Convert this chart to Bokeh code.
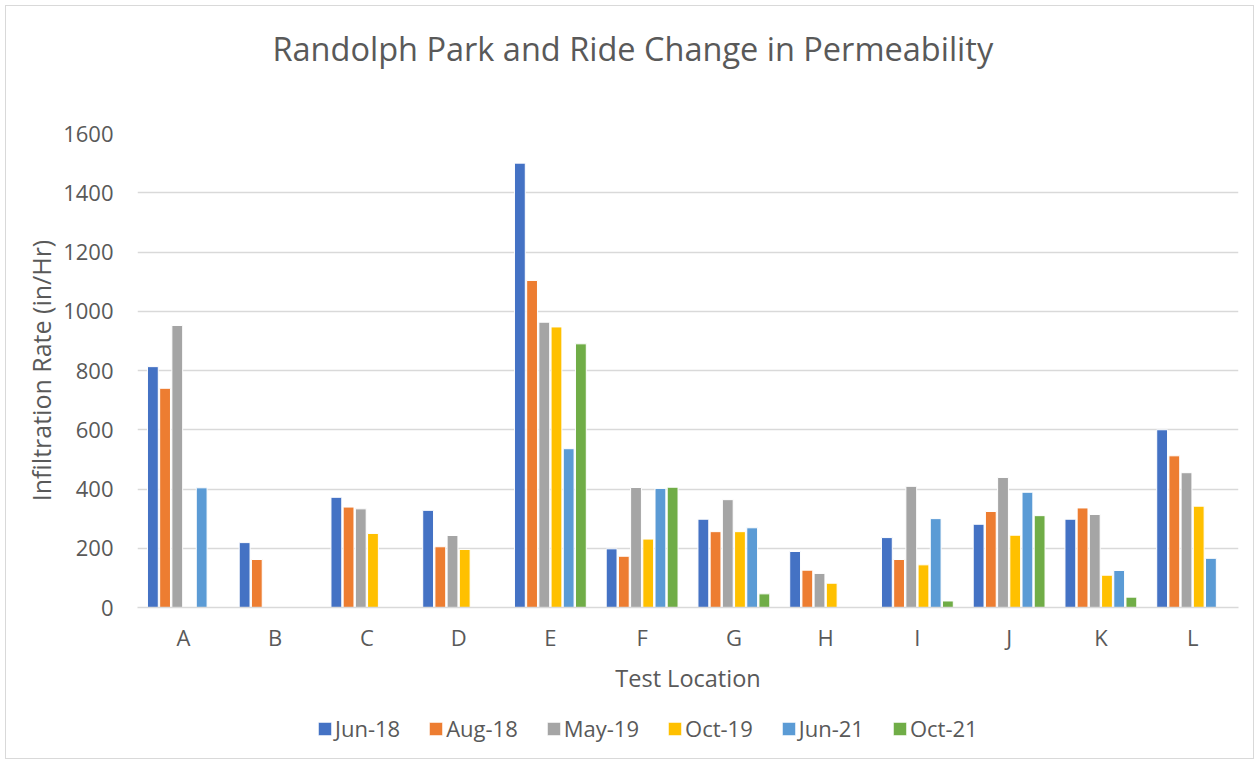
from bokeh.plotting import figure
from bokeh.layouts import column
from bokeh.models import (ColumnDataSource, FactorRange, FixedTicker, Legend,
                          LegendItem, Title, Range1d)
from bokeh.transform import dodge
from bokeh.embed import file_html
from bokeh.resources import INLINE

locations = ["A", "B", "C", "D", "E", "F", "G", "H", "I", "J", "K", "L"]
series_names = ["Jun-18", "Aug-18", "May-19", "Oct-19", "Jun-21", "Oct-21"]
jun18 = [813, 219, 372, 328, 1500, 198, 298, 189, 236, 281, 298, 600]
aug18 = [740, 162, 339, 205, 1104, 173, 256, 126, 162, 324, 336, 512]
may19 = [952, None, 333, 243, 963, 405, 364, 115, 409, 439, 314, 455]
oct19 = [None, None, 250, 196, 947, 231, 256, 82, 144, 244, 109, 342]
jun21 = [404, None, None, None, 536, 402, 269, None, 300, 389, 125, 166]
oct21 = [None, None, None, None, 890, 406, 46, None, 22, 310, 35, None]
y_ticks = [0, 200, 400, 600, 800, 1000, 1200, 1400, 1600]

series_values = [jun18, aug18, may19, oct19, jun21, oct21]
colors = ["#4472C4", "#ED7D31", "#A5A5A5", "#FFC000", "#5B9BD5", "#70AD47"]

FONT = "Open Sans"
TXT = "#595959"
GRID = "#D9D9D9"

p = figure(x_range=FactorRange(*locations, range_padding=0),
           y_range=Range1d(0, 1600), title=None,
           frame_width=1101, frame_height=474,
           output_backend="svg", toolbar_location=None,
           min_border_left=131, min_border_right=15, min_border_top=127,
           min_border_bottom=93)
p.outline_line_color = None
p.background_fill_color = "white"
p.border_fill_color = "white"

# spacer between frame and title, then the title itself
p.add_layout(Title(text=" ", text_font_size="1px", standoff=60), "above")
p.add_layout(Title(text="Randolph Park and Ride Change in Permeability",
                   align="left", offset=135, standoff=0,
                   text_font=FONT, text_font_size="32.5px", text_color=TXT,
                   text_font_style="normal"), "above")

slot = 0.133
for i, (name, vals, col) in enumerate(zip(series_names, series_values, colors)):
    xs = [loc for loc, v in zip(locations, vals) if v is not None]
    ys = [v for v in vals if v is not None]
    src = ColumnDataSource(dict(loc=xs, val=ys))
    p.vbar(x=dodge("loc", (i - 2.5) * slot, range=p.x_range), top="val",
           width=0.118, bottom=0, source=src, fill_color=col,
           line_color="white", line_width=1)

# axes
p.yaxis.ticker = FixedTicker(ticks=y_ticks)
p.yaxis.axis_line_color = None
p.yaxis.major_tick_line_color = None
p.yaxis.minor_tick_line_color = None
p.yaxis.major_label_text_font = FONT
p.yaxis.major_label_text_font_size = "22px"
p.yaxis.major_label_text_color = TXT
p.yaxis.major_label_standoff = 18
p.yaxis.axis_label = "Infiltration Rate (in/Hr)"
p.yaxis.axis_label_text_font = FONT
p.yaxis.axis_label_text_font_size = "25px"
p.yaxis.axis_label_text_font_style = "normal"
p.yaxis.axis_label_text_color = TXT
p.yaxis.axis_label_standoff = 2

p.xaxis.axis_line_color = GRID
p.xaxis.axis_line_width = 1.5
p.xaxis.major_tick_line_color = None
p.xaxis.minor_tick_line_color = None
p.xaxis.major_label_text_font = FONT
p.xaxis.major_label_text_font_size = "22px"
p.xaxis.major_label_text_color = TXT
p.xaxis.major_label_standoff = 8
p.xaxis.axis_label = "Test Location"
p.xaxis.axis_label_text_font = FONT
p.xaxis.axis_label_text_font_size = "23.5px"
p.xaxis.axis_label_text_font_style = "normal"
p.xaxis.axis_label_text_color = TXT
p.xaxis.axis_label_standoff = 7

p.xgrid.grid_line_color = None
p.ygrid.grid_line_color = GRID
p.ygrid.grid_line_width = 1.5

# legend strip below the chart
lg = figure(width=1247, height=58, x_range=Range1d(0, 1), y_range=Range1d(0, 1),
            x_axis_type=None, y_axis_type=None, output_backend="svg",
            toolbar_location=None, min_border=0, title=None)
lg.outline_line_color = None
lg.background_fill_color = "white"
lg.border_fill_color = "white"
items = []
for name, col in zip(series_names, colors):
    # zero-height bar, only so that the legend swatch has something to draw from
    r = lg.vbar(x=[0.5], top=[0], bottom=[0], width=0.01, fill_color=col,
                line_color="white", line_width=1)
    items.append(LegendItem(label=name, renderers=[r]))

legend = Legend(items=items, orientation="horizontal", location=(179, 15),
                glyph_width=17, glyph_height=17, label_standoff=2, spacing=27,
                padding=0, margin=0, border_line_color=None,
                background_fill_alpha=0,
                label_text_font=FONT, label_text_font_size="22px",
                label_text_color=TXT)
lg.add_layout(legend, "center")

layout = column(p, lg, spacing=0,
                styles={"border": "1px solid #D9D9D9", "margin-left": "5px",
                        "margin-top": "5px"})

open("out.html", "w").write(file_html(layout, INLINE))
